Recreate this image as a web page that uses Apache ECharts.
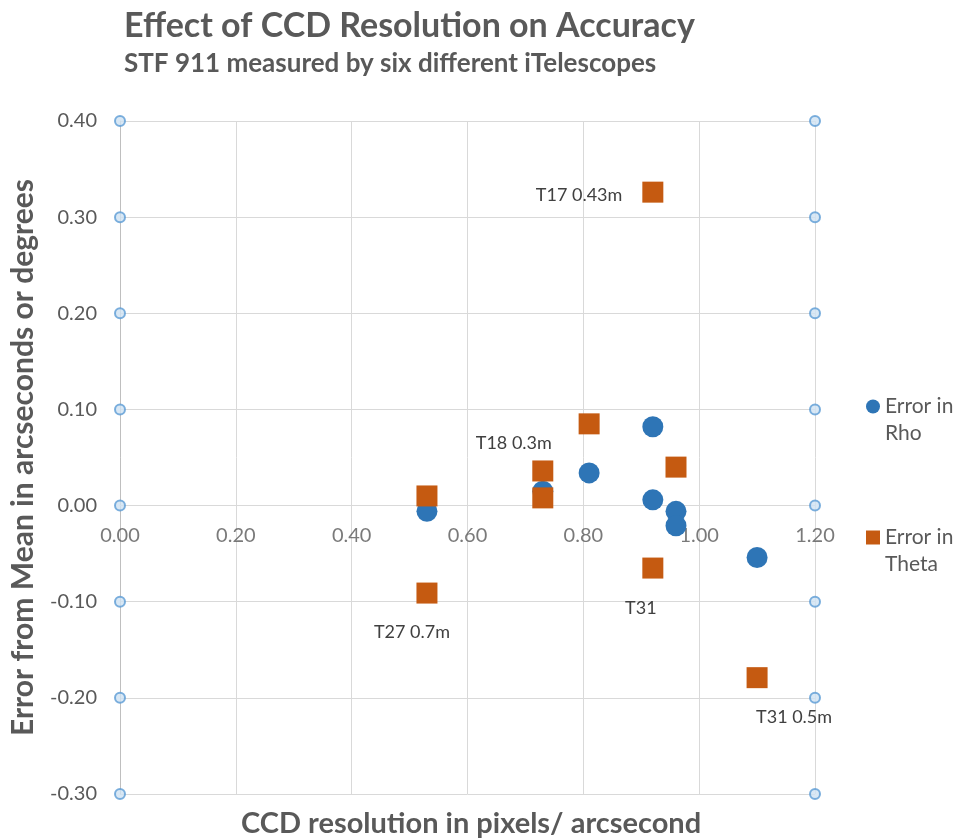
<!DOCTYPE html>
<html>
<head>
<meta charset="utf-8">
<script src="https://cdn.jsdelivr.net/npm/echarts@6/dist/echarts.min.js"></script>
<style>html,body{margin:0;padding:0;background:#fff}#c{width:962px;height:838px}</style>
</head>
<body>
<div id="c"></div>
<script>
// Data
const rhoX = [0.53, 0.73, 0.81, 0.92, 0.92, 0.96, 0.96, 1.10];
const rhoY = [-0.006, 0.015, 0.034, 0.082, 0.006, -0.006, -0.021, -0.054];
const thetaX = [0.53, 0.53, 0.73, 0.73, 0.81, 0.92, 0.92, 0.96, 1.10];
const thetaY = [0.010, -0.091, 0.036, 0.008, 0.085, 0.326, -0.065, 0.040, -0.179];
const thetaLabels = ['', 'T27 0.7m', 'T18 0.3m', '', '', 'T17 0.43m', 'T31', '', 'T31 0.5m'];
const yTicks = [-0.3, -0.2, -0.1, 0.0, 0.1, 0.2, 0.3, 0.4];
const xTicks = [0, 0.2, 0.4, 0.6, 0.8, 1.0, 1.2];
const xEdges = [0, 1.2];

const FONT = 'Lato';
const GREY = '#595959';
const labelStyle = {
  'T27 0.7m': { position: 'bottom', distance: 20, offset: [-15, 0] },
  'T18 0.3m': { position: 'top', distance: 8, offset: [-29, 0] },
  'T17 0.43m': { position: 'left', distance: 20, offset: [0, 3] },
  'T31': { position: 'bottom', distance: 21, offset: [-12, 0] },
  'T31 0.5m': { position: 'bottom', distance: 20, offset: [37, 0] }
};

const rhoData = rhoX.map((x, i) => [x, rhoY[i]]);
const thetaData = thetaX.map((x, i) => {
  const lbl = thetaLabels[i];
  const item = { value: [x, thetaY[i]] };
  if (lbl) {
    const s = labelStyle[lbl];
    item.label = {
      show: true, formatter: lbl, position: s.position, distance: s.distance, offset: s.offset,
      color: '#404040', fontSize: 18, fontFamily: FONT
    };
  }
  return item;
});
const tickMarks = [];
xEdges.forEach(x => yTicks.forEach(y => tickMarks.push([x, y])));
const xLabelData = xTicks.map(x => [x, 0]);

const chart = echarts.init(document.getElementById('c'));
chart.setOption({
  animation: false,
  backgroundColor: '#fff',
  title: [
    {
      text: 'Effect of CCD Resolution on Accuracy',
      subtext: 'STF 911 measured by six different iTelescopes',
      left: 119, top: 4, itemGap: 8,
      textStyle: { fontFamily: FONT, fontSize: 34, fontWeight: 'bold', color: GREY },
      subtextStyle: { fontFamily: FONT, fontSize: 26, fontWeight: 'bold', color: GREY }
    },
    {
      text: 'CCD resolution in pixels/ arcsecond',
      left: 236, top: 804,
      textStyle: { fontFamily: FONT, fontSize: 29, fontWeight: 'bold', color: GREY }
    }
  ],
  legend: {
    orient: 'vertical',
    left: 861, top: 361,
    itemWidth: 14, itemHeight: 14, itemGap: 50,
    data: [
      { name: 'Error in\nRho', icon: 'circle' },
      { name: 'Error in\nTheta', icon: 'rect' }
    ],
    formatter: name => '\u00a0\n' + name,
    textStyle: { fontFamily: FONT, fontSize: 21, color: GREY, lineHeight: 27 }
  },
  grid: { left: 120, right: 147, top: 121, bottom: 44, containLabel: false, outerBoundsMode: 'none' },
  xAxis: {
    type: 'value', min: 0, max: 1.2, interval: 0.2,
    axisLine: { show: true, onZero: true, lineStyle: { color: '#d9d9d9' } },
    axisTick: { show: false },
    axisLabel: { show: false },
    splitLine: { show: true, lineStyle: { color: '#d9d9d9' } }
  },
  yAxis: {
    type: 'value', min: -0.3, max: 0.4, interval: 0.1,
    name: 'Error from Mean in arcseconds or degrees',
    nameLocation: 'middle', nameGap: 82, nameRotate: 90,
    nameTextStyle: { fontFamily: FONT, fontSize: 30, fontWeight: 'bold', color: GREY },
    axisLine: { show: true, onZero: false, lineStyle: { color: '#bfbfbf' } },
    axisTick: { show: false },
    axisLabel: { formatter: v => v.toFixed(2), fontFamily: FONT, fontSize: 20, color: GREY, margin: 23 },
    splitLine: { show: true, lineStyle: { color: '#d9d9d9' } }
  },
  series: [
    {
      name: 'xlabels', type: 'scatter', data: xLabelData, symbol: 'circle', symbolSize: 0.1,
      itemStyle: { color: 'rgba(0,0,0,0)' }, silent: true, z: 1,
      label: {
        show: true, position: 'bottom', distance: 20,
        formatter: p => p.value[0].toFixed(2),
        fontFamily: FONT, fontSize: 20, color: GREY
      }
    },
    {
      name: 'ticks', type: 'scatter', data: tickMarks, symbol: 'circle', symbolSize: 10,
      itemStyle: { color: '#cfe2f3', borderColor: '#5b9bd5', borderWidth: 2 },
      silent: true, z: 2
    },
    {
      name: 'Error in\nRho', type: 'scatter', data: rhoData, symbol: 'circle', symbolSize: 21,
      itemStyle: { color: '#2e75b6', opacity: 1 }, z: 3
    },
    {
      name: 'Error in\nTheta', type: 'scatter', data: thetaData, symbol: 'rect', symbolSize: 21,
      itemStyle: { color: '#c55a11', opacity: 1 }, z: 4
    }
  ]
});
</script>
</body>
</html>
